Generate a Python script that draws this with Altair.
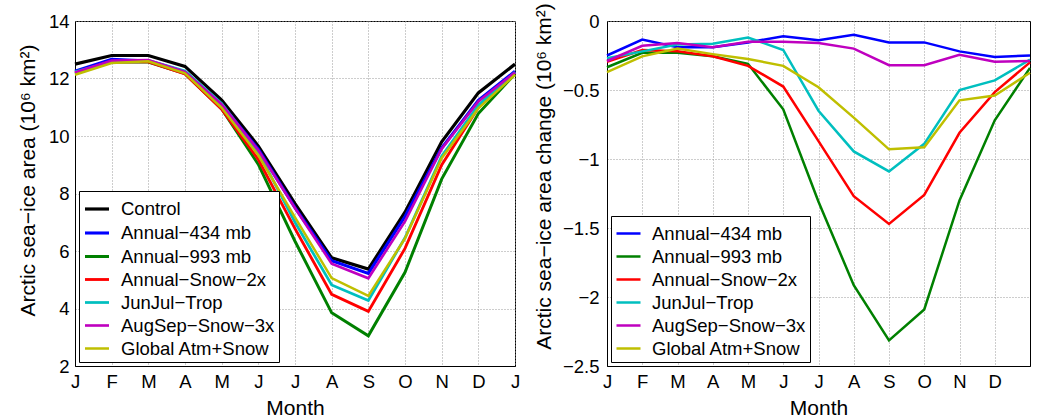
import altair as alt
import pandas as pd

months = ["J", "F", "M", "A", "M", "J", "J", "A", "S", "O", "N", "D", "J"]

names_left = ["Control", "Annual−434 mb", "Annual−993 mb", "Annual−Snow−2x",
              "JunJul−Trop", "AugSep−Snow−3x", "Global Atm+Snow"]
colors_left = ["#000000", "#0000ff", "#008000", "#ff0000", "#00bfbf", "#bf00bf", "#bfbf00"]
widths_left = [3.2, 2.5, 2.5, 2.5, 2.5, 2.5, 2.5]

# Left panel: Arctic sea-ice area (10^6 km^2)
control = [12.50, 12.80, 12.80, 12.42, 11.25, 9.65, 7.65, 5.76, 5.37, 7.35, 9.80, 11.50, 12.50]
a434 = [12.25, 12.67, 12.61, 12.23, 11.10, 9.54, 7.51, 5.66, 5.22, 7.20, 9.58, 11.24, 12.25]
a993 = [12.17, 12.57, 12.57, 12.17, 10.94, 9.01, 6.34, 3.85, 3.05, 5.26, 8.50, 10.78, 12.16]
snow2x = [12.20, 12.59, 12.58, 12.16, 10.93, 9.18, 6.78, 4.49, 3.90, 6.09, 8.99, 10.99, 12.20]
junjul = [12.23, 12.58, 12.63, 12.26, 11.13, 9.44, 7.00, 4.82, 4.28, 6.46, 9.30, 11.07, 12.22]
augsep = [12.21, 12.62, 12.64, 12.23, 11.10, 9.50, 7.49, 5.56, 5.05, 7.03, 9.55, 11.20, 12.21]
glob = [12.13, 12.54, 12.60, 12.18, 10.98, 9.33, 7.17, 5.06, 4.44, 6.44, 9.23, 10.96, 12.13]

# Right panel: change relative to control
d434 = [-0.25, -0.135, -0.19, -0.19, -0.155, -0.11, -0.14, -0.10, -0.155, -0.155, -0.22, -0.26, -0.25]
d993 = [-0.335, -0.23, -0.23, -0.255, -0.31, -0.64, -1.31, -1.915, -2.315, -2.09, -1.30, -0.72, -0.34]
dsnow2x = [-0.295, -0.21, -0.22, -0.256, -0.325, -0.475, -0.87, -1.27, -1.47, -1.26, -0.81, -0.515, -0.30]
djunjul = [-0.27, -0.22, -0.17, -0.165, -0.12, -0.21, -0.65, -0.945, -1.09, -0.89, -0.50, -0.43, -0.28]
daugsep = [-0.29, -0.18, -0.16, -0.19, -0.15, -0.15, -0.16, -0.20, -0.32, -0.32, -0.245, -0.295, -0.29]
dglob = [-0.37, -0.256, -0.20, -0.24, -0.275, -0.325, -0.48, -0.70, -0.93, -0.915, -0.575, -0.54, -0.375]

names_right = names_left[1:]
colors_right = colors_left[1:]
widths_right = widths_left[1:]

left_series = [control, a434, a993, snow2x, junjul, augsep, glob]
right_series = [d434, d993, dsnow2x, djunjul, daugsep, dglob]

rows_l = []
for n, vals in zip(names_left, left_series):
    for i, v in enumerate(vals):
        rows_l.append({"series": n, "m": i, "v": v})
df_l = pd.DataFrame(rows_l)

rows_r = []
for n, vals in zip(names_right, right_series):
    for i, v in enumerate(vals):
        rows_r.append({"series": n, "m": i, "v": v})
df_r = pd.DataFrame(rows_r)

month_expr = "[" + ",".join("'%s'" % m for m in months) + "][datum.value]"

FONT = "Liberation Sans"


def xaxis(n_ticks):
    return alt.Axis(values=list(range(n_ticks)), labelExpr=month_expr, title="Month",
                    grid=True, gridDash=[1, 2], gridColor="#9a9a9a",
                    labelFlush=False, labelPadding=6, titlePadding=7)


def legend():
    return alt.Legend(title=None, orient="bottom-left", offset=4,
                      strokeColor="black", fillColor="white", padding=4,
                      labelFontSize=18.5, labelFont=FONT, labelOffset=10,
                      symbolType="stroke", symbolSize=576, symbolStrokeWidth=3,
                      rowPadding=-0.5)


left = alt.Chart(df_l).mark_line(strokeJoin="miter").encode(
    x=alt.X("m:Q", scale=alt.Scale(domain=[0, 12], nice=False), axis=xaxis(13)),
    y=alt.Y("v:Q", scale=alt.Scale(domain=[2, 14], nice=False),
            axis=alt.Axis(values=[2, 4, 6, 8, 10, 12, 14], title="Arctic sea−ice area (10⁶ km²)",
                          grid=True, gridDash=[1, 2], gridColor="#9a9a9a",
                          labelPadding=6, titlePadding=10, titleY=159)),
    color=alt.Color("series:N", scale=alt.Scale(domain=names_left, range=colors_left),
                    sort=names_left, legend=legend()),
    strokeWidth=alt.StrokeWidth("series:N", scale=alt.Scale(domain=names_left, range=widths_left),
                                legend=None),
).properties(width=440, height=345)

right = alt.Chart(df_r).mark_line(strokeJoin="miter").encode(
    x=alt.X("m:Q", scale=alt.Scale(domain=[0, 12], nice=False), axis=xaxis(12)),
    y=alt.Y("v:Q", scale=alt.Scale(domain=[-2.5, 0], nice=False),
            axis=alt.Axis(values=[-2.5, -2, -1.5, -1, -0.5, 0], format="~g",
                          title="Arctic sea−ice area change (10⁶ km²)",
                          grid=True, gridDash=[1, 2], gridColor="#9a9a9a",
                          labelPadding=8, titlePadding=8, titleY=155)),
    color=alt.Color("series:N", scale=alt.Scale(domain=names_right, range=colors_right),
                    sort=names_right, legend=legend()),
    strokeWidth=alt.StrokeWidth("series:N", scale=alt.Scale(domain=names_right, range=widths_right),
                                legend=None),
).properties(width=423, height=345)

chart = alt.hconcat(left, right, spacing=10).resolve_scale(
    color="independent", strokeWidth="independent"
).resolve_legend(color="independent").configure(
    padding={"left": 16, "top": 2, "right": 0, "bottom": 0},
    font=FONT,
).configure_axis(
    labelFont=FONT, titleFont=FONT, labelFontSize=18.5, titleFontSize=21,
    titleFontWeight="normal", labelColor="black", titleColor="black",
    domainColor="black", domainWidth=1, ticks=False,
).configure_view(stroke="black", strokeWidth=1)

chart.save("out.html", embed_options={"renderer": "svg", "actions": False})
